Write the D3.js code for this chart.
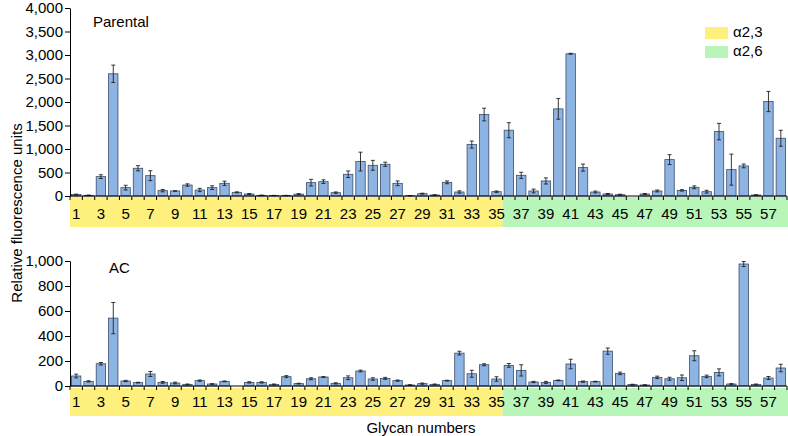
<!DOCTYPE html>
<html>
<head>
<meta charset="utf-8">
<script src="https://cdn.jsdelivr.net/npm/d3@7"></script>
<style>
  body { margin: 0; background: #fff; }
  svg { display: block; font-family: 'Liberation Sans', Arial, Helvetica, sans-serif; }
  .axis path, .axis line { stroke: #000; }
  .axis text { font-size: 15px; fill: #000; }
</style>
</head>
<body>
<div id="chart"></div>
<script>
// glycan ids 1..58, first 35 are a2,3, the rest a2,6
const glycans = d3.range(1, 59);
const a23Count = 35;

const parentalValues = [30, 15, 412, 2600, 178, 590, 433, 114, 107, 234,
  128, 178, 270, 78, 43, 14, 10, 10, 40, 284,
  305, 71, 462, 732, 653, 675, 270, 7, 50, 21,
  291, 85, 1094, 1733, 92, 1400, 440, 107, 320, 1854,
  3026, 604, 85, 43, 28, 0, 43, 107, 774, 120,
  185, 92, 1370, 561, 640, 21, 2010, 1229];
const parentalErrors = [10, 5, 40, 185, 50, 55, 105, 25, 5, 25,
  35, 40, 45, 10, 10, 5, 3, 3, 10, 70,
  40, 15, 70, 200, 105, 45, 50, 3, 10, 5,
  30, 25, 75, 135, 15, 160, 65, 40, 65, 220,
  10, 75, 20, 10, 10, 0, 10, 20, 105, 15,
  30, 30, 175, 330, 40, 5, 215, 170];

const acValues = [80, 37, 178, 543, 40, 27, 96, 29, 24, 13,
  43, 16, 37, 0, 29, 29, 13, 75, 19, 58,
  72, 21, 66, 120, 56, 61, 43, 8, 19, 13,
  43, 263, 98, 170, 56, 165, 125, 32, 29, 45,
  176, 35, 35, 279, 101, 11, 8, 69, 58, 66,
  242, 77, 109, 16, 976, 13, 64, 144];
const acErrors = [15, 5, 10, 125, 5, 3, 20, 7, 7, 3,
  5, 3, 3, 0, 5, 5, 3, 8, 3, 8,
  3, 5, 15, 7, 10, 8, 5, 2, 5, 3,
  3, 15, 28, 8, 18, 15, 45, 5, 8, 3,
  38, 5, 3, 25, 10, 3, 2, 10, 12, 22,
  40, 10, 28, 3, 20, 3, 12, 30];

const parentalTicks = d3.range(0, 4001, 500);
const acTicks = d3.range(0, 1001, 200);

const legendItems = [
  { label: 'α2,3', color: '#fdf07c' },
  { label: 'α2,6', color: '#b8f5b8' },
];

const width = 788, height = 436;
const left = 70, right = 787;

const svg = d3.select('#chart').append('svg')
  .attr('width', width)
  .attr('height', height);

const x = d3.scaleBand()
  .domain(glycans)
  .range([left, right])
  .paddingInner(0.24)
  .paddingOuter(0.12);

const panels = [
  { name: 'Parental', values: parentalValues, errors: parentalErrors, ticks: parentalTicks,
    yTop: 8, yBottom: 196, bandTop: 197, bandBottom: 227, labelY: 213, titleX: 93, titleY: 27 },
  { name: 'AC', values: acValues, errors: acErrors, ticks: acTicks,
    yTop: 261, yBottom: 386, bandTop: 388, bandBottom: 416, labelY: 401, titleX: 109, titleY: 273 },
];

panels.forEach(p => {
  const y = d3.scaleLinear()
    .domain([0, d3.max(p.ticks)])
    .range([p.yBottom, p.yTop]);

  const g = svg.append('g');
  const step = x.step();
  const boundary = left + a23Count * step;

  // coloured bands under the x axis
  g.append('rect')
    .attr('x', left).attr('y', p.bandTop)
    .attr('width', boundary - left).attr('height', p.bandBottom - p.bandTop)
    .attr('fill', legendItems[0].color);
  g.append('rect')
    .attr('x', boundary).attr('y', p.bandTop)
    .attr('width', width - boundary).attr('height', p.bandBottom - p.bandTop)
    .attr('fill', legendItems[1].color);

  const data = glycans.map((id, i) => ({ id, value: p.values[i], err: p.errors[i] }));

  g.selectAll('.bar')
    .data(data.filter(d => d.value > 0))
    .join('rect')
    .attr('class', 'bar')
    .attr('x', d => x(d.id))
    .attr('y', d => y(d.value))
    .attr('width', x.bandwidth())
    .attr('height', d => y(0) - y(d.value))
    .attr('fill', '#8db4e3')
    .attr('stroke', '#3b4d6b')
    .attr('stroke-width', 0.8);

  // error bars
  const eb = g.selectAll('.err')
    .data(data.filter(d => d.err > 0))
    .join('g')
    .attr('class', 'err')
    .attr('stroke', '#222')
    .attr('stroke-width', 0.9);
  const cx = d => x(d.id) + x.bandwidth() / 2;
  eb.append('line')
    .attr('x1', cx).attr('x2', cx)
    .attr('y1', d => y(Math.max(0, d.value - d.err)))
    .attr('y2', d => y(d.value + d.err));
  eb.append('line')
    .attr('x1', d => cx(d) - 2).attr('x2', d => cx(d) + 2)
    .attr('y1', d => y(d.value + d.err)).attr('y2', d => y(d.value + d.err));
  eb.append('line')
    .attr('x1', d => cx(d) - 2).attr('x2', d => cx(d) + 2)
    .attr('y1', d => y(Math.max(0, d.value - d.err))).attr('y2', d => y(Math.max(0, d.value - d.err)));

  // y axis
  g.append('g')
    .attr('class', 'axis')
    .attr('transform', `translate(${left},0)`)
    .call(d3.axisLeft(y).tickValues(p.ticks).tickFormat(d3.format(',')).tickSize(5).tickSizeOuter(0))
    .call(a => a.selectAll('text').attr('x', -7));

  // x axis line and ticks at band boundaries
  g.append('line')
    .attr('x1', left).attr('x2', right)
    .attr('y1', y(0)).attr('y2', y(0))
    .attr('stroke', '#000');
  g.selectAll('.xtick')
    .data(d3.range(0, glycans.length + 1))
    .join('line')
    .attr('x1', i => left + i * step).attr('x2', i => left + i * step)
    .attr('y1', y(0)).attr('y2', y(0) + 4)
    .attr('stroke', '#000');

  g.selectAll('.xlabel')
    .data(glycans.filter(d => d % 2 === 1))
    .join('text')
    .attr('x', d => x(d) + x.bandwidth() / 2)
    .attr('y', p.labelY)
    .attr('text-anchor', 'middle')
    .attr('dominant-baseline', 'central')
    .attr('font-size', 15)
    .text(d => d);

  g.append('text')
    .attr('x', p.titleX).attr('y', p.titleY)
    .attr('font-size', 15)
    .text(p.name);
});

// legend
const legend = svg.append('g').attr('transform', 'translate(705,27)');
legendItems.forEach((item, i) => {
  legend.append('rect')
    .attr('x', 0).attr('y', i * 19)
    .attr('width', 23).attr('height', 12)
    .attr('fill', item.color);
  legend.append('text')
    .attr('x', 28).attr('y', i * 19 + 10)
    .attr('font-size', 15)
    .text(item.label);
});

svg.append('text')
  .attr('transform', 'translate(16,213) rotate(-90)')
  .attr('text-anchor', 'middle')
  .attr('dominant-baseline', 'central')
  .attr('font-size', 15)
  .text('Relative fluorescence units');

svg.append('text')
  .attr('x', 421).attr('y', 427)
  .attr('text-anchor', 'middle')
  .attr('dominant-baseline', 'central')
  .attr('font-size', 15)
  .text('Glycan numbers');
</script>
</body>
</html>
